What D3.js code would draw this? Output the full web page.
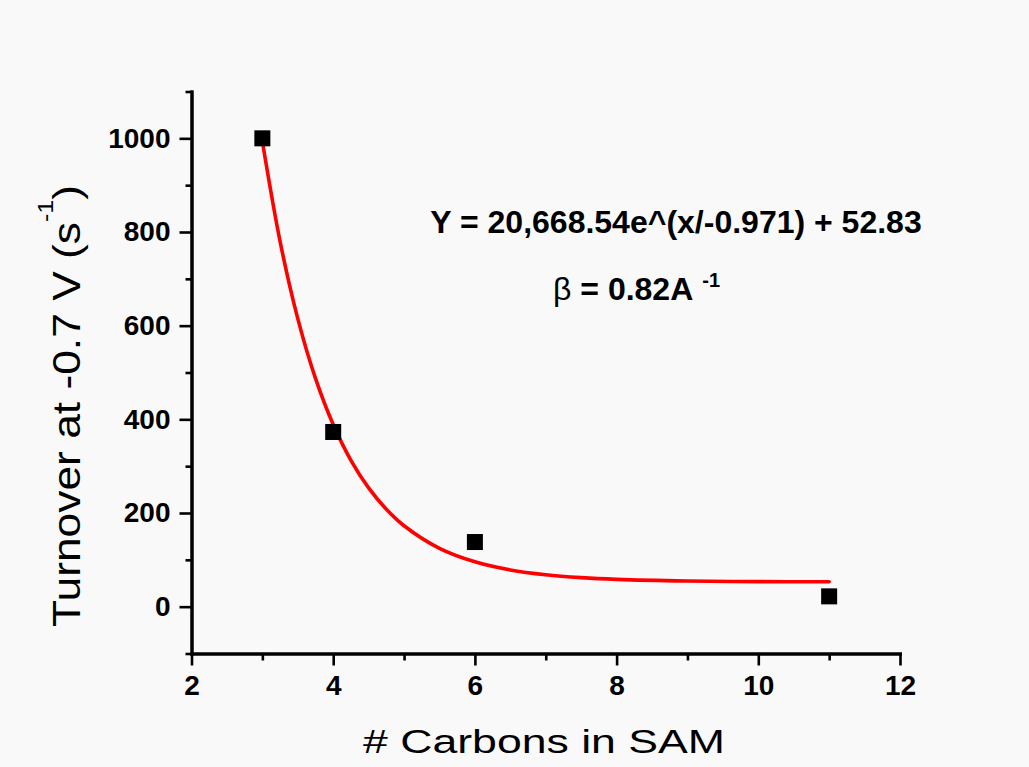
<!DOCTYPE html>
<html>
<head>
<meta charset="utf-8">
<script src="https://cdn.jsdelivr.net/npm/d3@7"></script>
<style>
  html, body { margin: 0; padding: 0; background: #f9f9f9; }
  svg { display: block; }
  text { font-family: "Liberation Sans", Arial, Helvetica, sans-serif; fill: #000; }
</style>
</head>
<body>
<script>
// Measured turnover vs. SAM chain length
const carbons = [3, 4, 6, 11];
const turnover = [1000, 373, 138, 22];

// Exponential fit curve, sampled along the chain-length range
const fitX = [3, 3.25, 3.5, 3.75, 4, 4.25, 4.5, 4.75, 5, 5.5, 6, 6.5, 7, 7.5, 8, 9, 10, 11];
const fitY = [993.7, 780.1, 615.0, 487.4, 388.8, 312.5, 253.6, 208.0, 172.8, 124.5, 95.7, 78.4, 68.1, 62.0, 58.3, 54.8, 53.5, 53.1];

// Axis ticks
const xMajor = [2, 4, 6, 8, 10, 12];
const xMinor = [3, 5, 7, 9, 11];
const yMajor = [0, 200, 400, 600, 800, 1000];
const yMinor = [-100, 100, 300, 500, 700, 900, 1100];

const fitLabel = "Y = 20,668.54e^(x/-0.971) + 52.83";
const betaValue = "0.82";

const W = 1029, H = 767;
const svg = d3.select("body").append("svg").attr("width", W).attr("height", H);
svg.append("rect").attr("width", W).attr("height", H).attr("fill", "#f9f9f9");

const x = d3.scaleLinear().domain([2, 12]).range([191.5, 900]);
const y = d3.scaleLinear().domain([-100, 1100]).range([653.5, 91.5]);

// Minor ticks first (no labels)
const minorX = svg.append("g").attr("transform", `translate(0,${y(-100)})`)
  .call(d3.axisBottom(x).tickValues(xMinor).tickSize(7).tickSizeOuter(0).tickFormat(""));
const minorY = svg.append("g").attr("transform", `translate(${x(2)},0)`)
  .call(d3.axisLeft(y).tickValues(yMinor).tickSize(6).tickSizeOuter(0).tickFormat(""));

// Major ticks with labels
const gx = svg.append("g").attr("transform", `translate(0,${y(-100)})`)
  .call(d3.axisBottom(x).tickValues(xMajor).tickSize(12).tickSizeOuter(0).tickPadding(10)
    .tickFormat(d3.format("d")));
const gy = svg.append("g").attr("transform", `translate(${x(2)},0)`)
  .call(d3.axisLeft(y).tickValues(yMajor).tickSize(12).tickSizeOuter(0).tickPadding(9)
    .tickFormat(d3.format("d")));

[minorX, minorY, gx, gy].forEach(g => {
  g.selectAll(".tick line").attr("stroke", "#000").attr("stroke-width", 2.6);
  g.select(".domain").attr("stroke", "#000").attr("stroke-width", 3).attr("stroke-linecap", "square");
  g.selectAll("text").style("font-family", '"Liberation Sans", Arial, sans-serif')
    .style("font-size", "28px").style("font-weight", "bold").attr("fill", "#000");
});

// Fit curve
const line = d3.line().x((d, i) => x(fitX[i])).y(d => y(d)).curve(d3.curveCatmullRom.alpha(0.5));
svg.append("path").datum(fitY)
  .attr("d", line)
  .attr("fill", "none")
  .attr("stroke", "#ff0000")
  .attr("stroke-width", 3.6)
  .attr("stroke-linecap", "round");

// Data markers
const S = 16;
svg.append("g").selectAll("rect")
  .data(carbons.map((c, i) => [c, turnover[i]]))
  .join("rect")
  .attr("x", d => x(d[0]) - S / 2)
  .attr("y", d => y(d[1]) - S / 2)
  .attr("width", S)
  .attr("height", S)
  .attr("fill", "#000");

// Stretch a text element along its writing direction to a target length
function fitLength(textSel, target) {
  const w = textSel.node().getBBox().width;
  textSel.attr("transform", `scale(${target / w},1)`);
}

// Axis titles
const xt = svg.append("g").attr("transform", `translate(544,753)`)
  .append("text").attr("text-anchor", "middle")
  .style("font-size", "34px")
  .text("# Carbons in SAM");
fitLength(xt, 362);

const yt = svg.append("g").attr("transform", `translate(80,406) rotate(-90)`)
  .append("text").attr("text-anchor", "middle")
  .style("font-size", "39px");
yt.append("tspan").text("Turnover at -0.7 V (s");
yt.append("tspan").attr("dy", -27).style("font-size", "22px").text("-1");
yt.append("tspan").attr("dy", 27).text(")");
fitLength(yt, 442);

// Fit equation and decay constant
svg.append("text")
  .attr("x", 676).attr("y", 233)
  .attr("text-anchor", "middle")
  .style("font-size", "32px").style("font-weight", "bold")
  .text(fitLabel);

const bt = svg.append("text").attr("x", 553).attr("y", 300)
  .style("font-size", "32px").style("font-weight", "bold");
bt.append("tspan").style("font-weight", "normal").text("β");
bt.append("tspan").text(" = " + betaValue + "A");
bt.append("tspan").attr("dx", 9).attr("dy", -13).style("font-size", "20px").text("-1");
</script>
</body>
</html>
